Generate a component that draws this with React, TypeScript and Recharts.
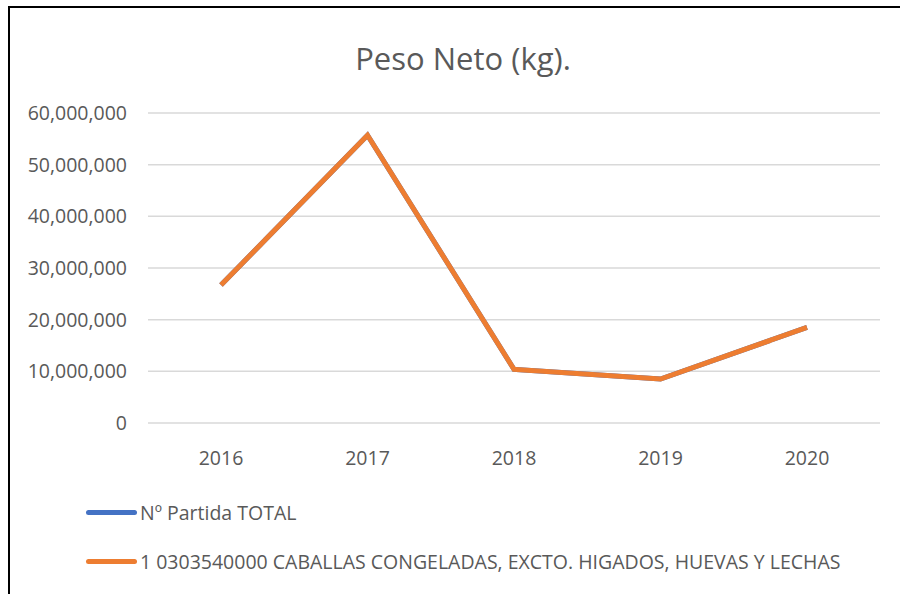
import React from 'react'
import { LineChart, Line, XAxis, YAxis, CartesianGrid, Legend } from 'recharts'

const years = ['2016', '2017', '2018', '2019', '2020']
const totalKg = [26700000, 55700000, 10400000, 8500000, 18500000]
const caballasKg = [26700000, 55700000, 10400000, 8500000, 18500000]
const yTicks = [0, 10000000, 20000000, 30000000, 40000000, 50000000, 60000000]

const seriesNames = [
  'Nº Partida TOTAL',
  '1 0303540000 CABALLAS CONGELADAS, EXCTO. HIGADOS, HUEVAS Y LECHAS'
]
const seriesColors = ['#4472C4', '#ED7D31']

const data = years.map((y, i) => ({
  year: y,
  total: totalKg[i],
  caballas: caballasKg[i]
}))

const font = '"Open Sans", sans-serif'
const gray = '#595959'

const fmt = (v: number) => v.toLocaleString('en-US')

function LegendBox() {
  return (
    <div style={{ fontFamily: font }}>
      {seriesNames.map((name, i) => (
        <div
          key={name}
          style={{ display: 'flex', alignItems: 'center', height: 49 }}
        >
          <span
            style={{
              display: 'inline-block',
              width: 51,
              height: 5,
              borderRadius: 3,
              background: seriesColors[i],
              marginRight: 3
            }}
          />
          <span style={{ fontSize: 19.5, color: gray, whiteSpace: 'nowrap' }}>{name}</span>
        </div>
      ))}
    </div>
  )
}

export default function App() {
  return (
    <div
      style={{
        position: 'fixed',
        left: 8,
        top: 6,
        width: 892,
        height: 588,
        borderTop: '2px solid #000',
        borderLeft: '2px solid #000',
        boxSizing: 'border-box',
        background: '#fff'
      }}
    >
      <LineChart
        width={890}
        height={586}
        data={data}
        margin={{ top: 105, right: 20, bottom: 141, left: 0 }}
      >
        <text
          x={453}
          y={62}
          textAnchor="middle"
          fontFamily={font}
          fontSize={31}
          fill={gray}
        >
          Peso Neto (kg).
        </text>
        <CartesianGrid vertical={false} stroke="#d9d9d9" strokeWidth={1.5} />
        <XAxis
          dataKey="year"
          axisLine={false}
          tickLine={false}
          tickSize={0}
          tickMargin={28}
          height={30}
          padding={{ left: 73, right: 73 }}
          tick={{ fill: gray, fontSize: 19.5, fontFamily: font }}
        />
        <YAxis
          width={138}
          domain={[0, 60000000]}
          ticks={yTicks}
          tickFormatter={fmt}
          axisLine={false}
          tickLine={false}
          tickSize={0}
          tickMargin={21}
          tick={{ fill: gray, fontSize: 19.5, fontFamily: font }}
        />
        <Legend
          layout="vertical"
          align="center"
          verticalAlign="middle"
          wrapperStyle={{ left: 76, top: 480, width: 800 }}
          content={() => <LegendBox />}
        />
        <Line
          dataKey="total"
          name={seriesNames[0]}
          stroke={seriesColors[0]}
          strokeWidth={5}
          dot={false}
          activeDot={false}
          isAnimationActive={false}
        />
        <Line
          dataKey="caballas"
          name={seriesNames[1]}
          stroke={seriesColors[1]}
          strokeWidth={5}
          dot={false}
          activeDot={false}
          isAnimationActive={false}
        />
      </LineChart>
    </div>
  )
}
